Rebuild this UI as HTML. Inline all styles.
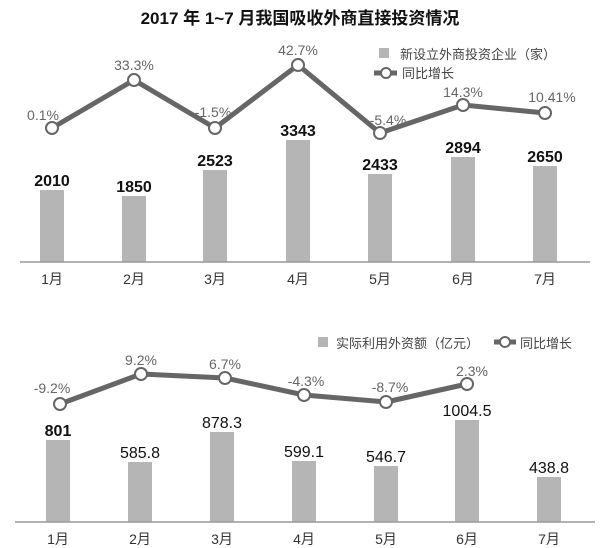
<!DOCTYPE html>
<html><head><meta charset="utf-8"><style>
body{margin:0;background:#fff}
svg{display:block}
text{font-family:"Liberation Sans","Noto Sans CJK SC",sans-serif}
.p{font-size:14px;fill:#666;text-anchor:middle}
.v{font-size:16px;font-weight:bold;fill:#111;text-anchor:middle}
.m{font-size:14px;fill:#333;text-anchor:middle}
.lg{font-size:13px;fill:#444}
</style></head><body>
<svg width="600" height="548" viewBox="0 0 600 548">
<text x="300" y="24" text-anchor="middle" style="font-size:17px;font-weight:bold;fill:#111">2017 年 1~7 月我国吸收外商直接投资情况</text>
<rect x="379" y="48" width="10" height="10" fill="#b5b5b5"/>
<text class="lg" x="400" y="59">新设立外商投资企业（家）</text>
<line x1="374" y1="73" x2="397" y2="73" stroke="#666" stroke-width="5"/>
<circle cx="386" cy="73" r="5" fill="#fff" stroke="#666" stroke-width="2"/>
<text class="lg" x="402" y="78">同比增长</text>
<g fill="#b5b5b5">
<rect x="40" y="190" width="24" height="72"/>
<rect x="122" y="196" width="24" height="66"/>
<rect x="203" y="170" width="24" height="92"/>
<rect x="286" y="140" width="24" height="122"/>
<rect x="368" y="174" width="24" height="88"/>
<rect x="451" y="157" width="24" height="105"/>
<rect x="533" y="166" width="24" height="96"/>
</g>
<line x1="20" y1="262" x2="590" y2="262" stroke="#999" stroke-width="1.5"/>
<g class="v">
<text x="52" y="186">2010</text><text x="134" y="192">1850</text><text x="215" y="166">2523</text>
<text x="298" y="136">3343</text><text x="380" y="170">2433</text><text x="463" y="153">2894</text><text x="545" y="162">2650</text>
</g>
<g class="m">
<text x="52" y="284">1月</text><text x="134" y="284">2月</text><text x="215" y="284">3月</text><text x="298" y="284">4月</text><text x="380" y="284">5月</text><text x="463" y="284">6月</text><text x="545" y="284">7月</text>
</g>
<polyline points="52,128 134,80 215,128 298,65 380,133 463,105 545,113" fill="none" stroke="#666" stroke-width="5" stroke-linejoin="round"/>
<g fill="#fff" stroke="#666" stroke-width="2">
<circle cx="52" cy="128" r="6"/><circle cx="134" cy="80" r="6"/><circle cx="215" cy="128" r="6"/><circle cx="298" cy="65" r="6"/><circle cx="380" cy="133" r="6"/><circle cx="463" cy="105" r="6"/><circle cx="545" cy="113" r="6"/>
</g>
<g class="p">
<text x="43" y="120">0.1%</text><text x="134" y="70">33.3%</text><text x="213" y="117">-1.5%</text><text x="298" y="55">42.7%</text><text x="388" y="125">-5.4%</text><text x="463" y="97">14.3%</text><text x="552" y="102">10.41%</text>
</g>
<rect x="318" y="337" width="10" height="10" fill="#b5b5b5"/>
<text class="lg" x="336" y="348">实际利用外资额（亿元）</text>
<line x1="494" y1="342" x2="516" y2="342" stroke="#666" stroke-width="5"/>
<circle cx="505" cy="342" r="5" fill="#fff" stroke="#666" stroke-width="2"/>
<text class="lg" x="520" y="348">同比增长</text>
<g fill="#b5b5b5">
<rect x="46" y="440" width="24" height="82"/>
<rect x="128" y="462" width="24" height="60"/>
<rect x="210" y="432" width="24" height="90"/>
<rect x="292" y="461" width="24" height="61"/>
<rect x="374" y="466" width="24" height="56"/>
<rect x="455" y="420" width="24" height="102"/>
<rect x="537" y="477" width="24" height="45"/>
</g>
<line x1="15" y1="522" x2="595" y2="522" stroke="#999" stroke-width="1.5"/>
<g class="v" style="font-weight:normal">
<text x="58" y="436" font-weight="bold">801</text><text x="140" y="458">585.8</text><text x="222" y="428">878.3</text>
<text x="304" y="457">599.1</text><text x="386" y="462">546.7</text><text x="467" y="416">1004.5</text><text x="549" y="473">438.8</text>
</g>
<g class="m">
<text x="58" y="544">1月</text><text x="140" y="544">2月</text><text x="222" y="544">3月</text><text x="304" y="544">4月</text><text x="386" y="544">5月</text><text x="467" y="544">6月</text><text x="549" y="544">7月</text>
</g>
<polyline points="60,404 141,374 225,378 304,395 386,402 467,384" fill="none" stroke="#666" stroke-width="5" stroke-linejoin="round"/>
<g fill="#fff" stroke="#666" stroke-width="2">
<circle cx="60" cy="404" r="6"/><circle cx="141" cy="374" r="6"/><circle cx="225" cy="378" r="6"/><circle cx="304" cy="395" r="6"/><circle cx="386" cy="402" r="6"/><circle cx="467" cy="384" r="6"/>
</g>
<g class="p">
<text x="52" y="393">-9.2%</text><text x="141" y="365">9.2%</text><text x="225" y="369">6.7%</text><text x="306" y="386">-4.3%</text><text x="390" y="392">-8.7%</text><text x="472" y="376">2.3%</text>
</g>
</svg>
</body></html>
